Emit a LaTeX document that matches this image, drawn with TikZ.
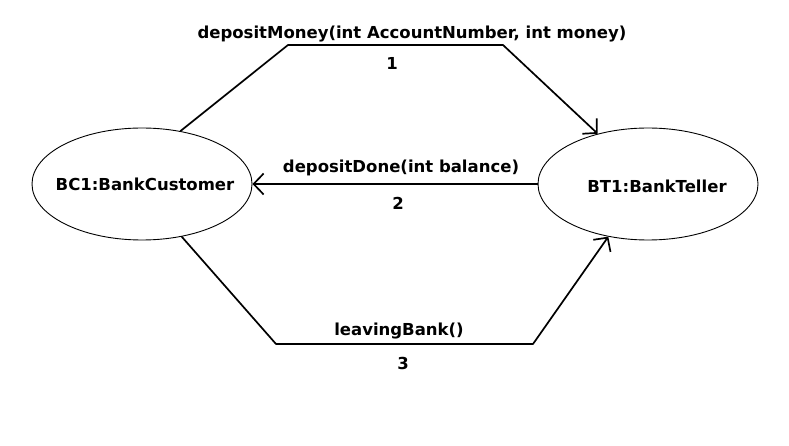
\documentclass[tikz,border=0pt]{standalone}
\usepackage{fontspec}
\setmainfont{DejaVu Sans}
\usetikzlibrary{shapes.geometric,arrows.meta}

\begin{document}
\begin{tikzpicture}[line cap=round,line join=round,>={Straight Barb[length=10pt,width=21pt]},x=1pt,y=-1pt,
	obj/.style={draw,ellipse,line width=0.9pt,inner sep=0pt,minimum width=220pt,minimum height=112pt},
	msg/.style={font=\fontsize{16.5}{20}\selectfont\bfseries,inner sep=0pt},
	link/.style={line width=1.7pt}]
		\useasboundingbox (0,0) rectangle (789,446);
		\node [obj,label={[msg,xshift=3pt]center:BC1:BankCustomer}] (bc) at (142,184) {};
		\node [obj,label={[msg,xshift=9pt,yshift=-2pt]center:BT1:BankTeller}] (bt) at (648,184) {};
		\coordinate (t1) at (288,45);
		\coordinate (t2) at (503,45);
		\coordinate (b1) at (276,344);
		\coordinate (b2) at (533,344);
		\draw [link,->] (bc.54)-- (t1)-- (t2)-- (bt.135);
		\draw [link,->] (bt.west)-- (bc.east);
		\draw [link,->] (bc.-53)-- (b1)-- (b2)-- (bt.-127);
		\node [msg] (m1) at (412,34) {depositMoney(int AccountNumber, int money)};
		\node [msg] (n1) at (392,63) {1};
		\node [msg] (m2) at (401,168) {depositDone(int balance)};
		\node [msg] (n2) at (398,203) {2};
		\node [msg] (m3) at (399,331) {leavingBank()};
		\node [msg] (n3) at (403,363) {3};
	\end{tikzpicture}
\end{document}
